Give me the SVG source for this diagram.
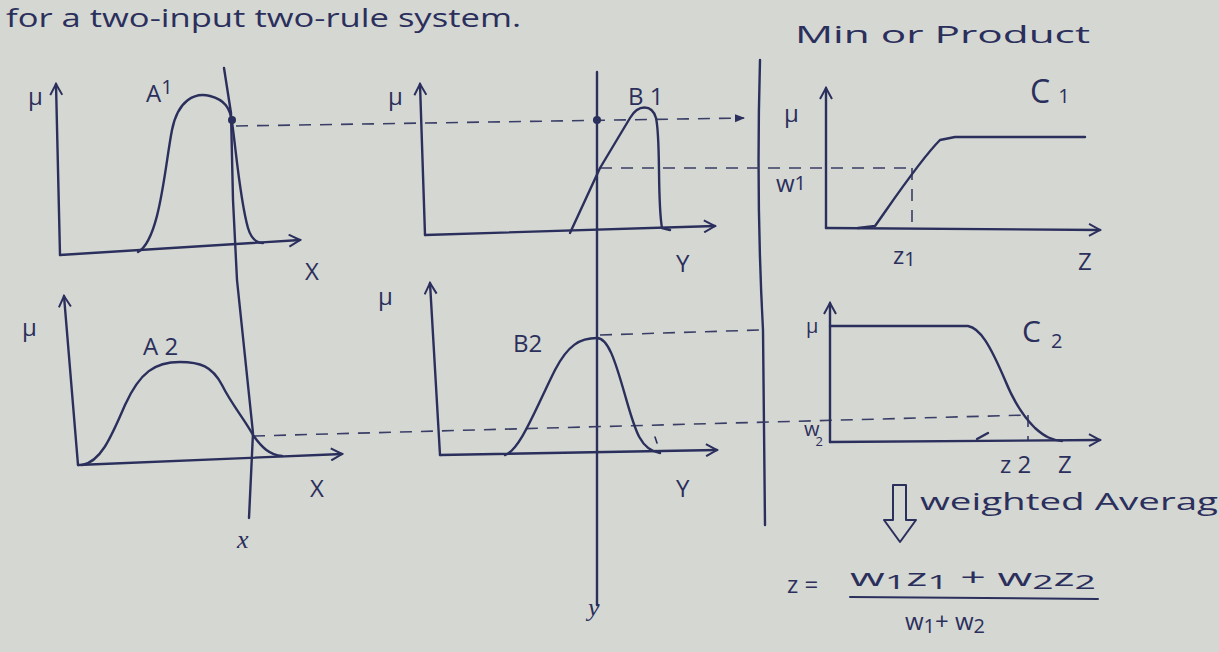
<svg xmlns="http://www.w3.org/2000/svg" width="1219" height="652" viewBox="0 0 1219 652">
<defs>
<style>
.ink{fill:none;stroke:#2b2f5c;stroke-width:2.4;stroke-linecap:round;stroke-linejoin:round}
.thin{fill:none;stroke:#2b2f5c;stroke-width:1.6;stroke-linecap:round}
.dash{fill:none;stroke:#3a3e66;stroke-width:1.6;stroke-dasharray:12 9}
.ax{marker-end:url(#ah)}
text{font-family:"Open Sans","DejaVu Sans",sans-serif;fill:#2b2f5c}
.t{font-size:26px}
.lb{font-size:24px}
.sm{font-size:20px}
</style>
<marker id="ah" viewBox="0 0 14 14" refX="12" refY="7" markerWidth="14" markerHeight="14" markerUnits="userSpaceOnUse" orient="auto">
<path d="M1,1 L12,7 L1,13" fill="none" stroke="#2b2f5c" stroke-width="2"/>
</marker>
<marker id="fa" viewBox="0 0 10 10" refX="9" refY="5" markerWidth="10" markerHeight="10" markerUnits="userSpaceOnUse" orient="auto">
<path d="M0,1 L10,5 L0,9 Z" fill="#2b2f5c"/>
</marker>
</defs>
<rect x="0" y="0" width="1219" height="652" fill="#d5d7d3"/>

<g id="title">
<text class="t" x="6" y="27" textLength="515" lengthAdjust="spacingAndGlyphs">for a two-input two-rule system.</text>
<text class="lb" x="795" y="43" textLength="295" lengthAdjust="spacingAndGlyphs">Min or Product</text>
</g>

<g id="connectors">
<path class="ink" d="M224,68 L231,113 L233,200 L237,280 L253,433 L249,518"/>
<path class="ink" d="M597,72 L597,605"/>
<path class="ink" d="M760,60 Q756,200 763,330 L765,525"/>
<path class="dash" d="M236,126 L744,118" marker-end="url(#fa)"/>
<path class="dash" d="M600,168 L912,168"/>
<path class="dash" d="M912,168 L912,226"/>
<path class="dash" d="M600,335 L760,330"/>
<path class="dash" d="M253,436 L1028,415"/>
<path class="dash" d="M1028,415 L1028,440"/>
</g>

<g id="A1">
<path class="ink ax" d="M60,255 L56,84"/>
<path class="ink ax" d="M60,255 L300,240"/>
<path class="ink" d="M138,252 C160,240 165,165 172,130 C178,100 195,92 210,96 C225,100 230,108 232,122 C236,150 240,200 248,228 C251,238 256,243 263,243"/>
<circle cx="232" cy="120" r="4" fill="#2b2f5c"/>
<text class="lb" x="28" y="105">μ</text>
<text class="lb" x="146" y="102">A<tspan class="sm" dy="-8">1</tspan></text>
<text class="lb" x="305" y="280">X</text>
</g>

<g id="B1">
<path class="ink ax" d="M425,235 L420,84"/>
<path class="ink ax" d="M425,235 L715,226"/>
<path class="ink" d="M570,233 L600,168 L630,118 C638,104 652,104 656,118 C661,140 657,200 662,228 L670,230"/>
<circle cx="597" cy="120" r="4" fill="#2b2f5c"/>
<text class="lb" x="388" y="105">μ</text>
<text class="lb" x="628" y="105">B 1</text>
<text class="lb" x="676" y="272">Y</text>
</g>

<g id="C1">
<path class="ink ax" d="M826,228 L826,88"/>
<path class="ink ax" d="M826,228 L1100,230"/>
<path class="ink" d="M858,228 L875,226 C890,205 920,160 940,140 L955,137 L1085,137"/>
<text class="lb" x="784" y="122">μ</text>
<text class="lb" x="776" y="192">w<tspan class="sm" dy="-2">1</tspan></text>
<text class="lb" x="893" y="264">z<tspan class="sm" dy="2">1</tspan></text>
<text class="lb" x="1078" y="270">Z</text>
<text x="1030" y="103" style="font-size:32px">C<tspan class="sm" dx="8">1</tspan></text>
</g>

<g id="A2">
<path class="ink ax" d="M78,465 L64,296"/>
<path class="ink ax" d="M78,465 L342,454"/>
<path class="ink" d="M82,465 C100,462 110,440 125,405 C140,372 155,362 180,362 C200,362 212,366 222,385 C232,405 245,420 253,435 C262,448 270,455 282,456"/>
<text class="lb" x="22" y="336">μ</text>
<text class="lb" x="143" y="355">A 2</text>
<text class="lb" x="310" y="497">X</text>
<text x="237" y="548" style="font-size:26px;font-family:'Liberation Serif',serif;font-style:italic">x</text>
</g>

<g id="B2">
<path class="ink ax" d="M440,455 L430,283"/>
<path class="ink ax" d="M440,455 L717,450"/>
<path class="ink" d="M505,455 C520,450 535,410 555,370 C568,345 580,338 597,338 C608,338 615,360 625,395 C635,430 640,450 660,453"/>
<path class="thin" d="M655,437 L657,443"/>
<text class="lb" x="378" y="305">μ</text>
<text class="lb" x="513" y="352">B2</text>
<text class="lb" x="676" y="497">Y</text>
<text x="588" y="616" style="font-size:26px;font-family:'Liberation Serif',serif;font-style:italic">y</text>
</g>

<g id="C2">
<path class="ink ax" d="M830,442 L830,303"/>
<path class="ink ax" d="M830,442 L1100,440"/>
<path class="ink" d="M830,326 L968,326 C980,328 990,345 1005,380 C1015,405 1025,418 1035,428 C1045,437 1052,440 1062,441"/>
<path class="ink" d="M977,439 L988,433"/>
<text class="sm" x="806" y="333">μ</text>
<text class="sm" x="804" y="436">w<tspan style="font-size:13px" dx="-4" dy="10">2</tspan></text>
<text class="lb" x="1000" y="473">z 2</text>
<text class="lb" x="1058" y="473">Z</text>
<text x="1022" y="342" style="font-size:30px">C<tspan class="sm" dx="10" dy="6">2</tspan></text>
</g>

<g id="weighted-average">
<path class="ink" style="stroke-width:2" d="M893,485 L906,485 L906,520 L916,520 L900,542 L884,520 L893,520 Z"/>
<text class="lb" x="920" y="510" textLength="298" lengthAdjust="spacingAndGlyphs">weighted Averag</text>
</g>

<g id="formula">
<text class="lb" x="787" y="593">z  =</text>
<text class="lb" x="850" y="586" textLength="246" lengthAdjust="spacingAndGlyphs">w<tspan class="sm" dy="3">1</tspan><tspan dy="-3">z</tspan><tspan class="sm" dy="3">1</tspan><tspan dy="-3"> + w</tspan><tspan class="sm" dy="3">2</tspan><tspan dy="-3">z</tspan><tspan class="sm" dy="3">2</tspan></text>
<path class="ink" style="stroke-width:2" d="M850,597 L1098,599"/>
<text class="lb" x="905" y="630">w<tspan class="sm" dy="3">1</tspan><tspan dy="-3">+ w</tspan><tspan class="sm" dy="3">2</tspan></text>
</g>
</svg>
